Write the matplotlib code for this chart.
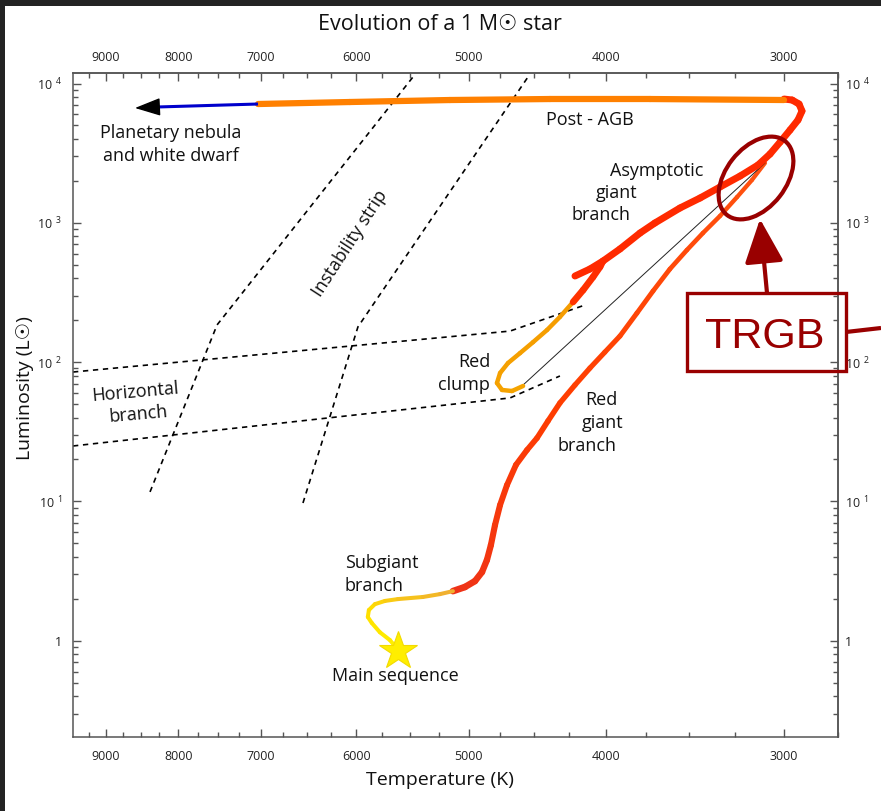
import numpy as np
import matplotlib
matplotlib.use('Agg')
import matplotlib.pyplot as plt
from matplotlib.collections import LineCollection
from matplotlib.colors import to_rgb
from matplotlib.patches import Rectangle, Ellipse
from matplotlib.ticker import FixedLocator, FixedFormatter, NullFormatter, LogLocator

plt.rcParams['font.family'] = ['Open Sans', 'DejaVu Sans']
plt.rcParams['mathtext.fontset'] = 'custom'
plt.rcParams['mathtext.rm'] = 'Open Sans'

# ---------------- data (temperature K, luminosity Lsun) ----------------
sub_T = [5635, 5680, 5773, 5849, 5887, 5877, 5820, 5726, 5607, 5385, 5238, 5129]
sub_L = [0.916, 1.01, 1.15, 1.34, 1.48, 1.66, 1.83, 1.93, 1.99, 2.06, 2.16, 2.27]

rgb_T = [5129, 5030, 4949, 4893, 4854, 4823, 4791, 4752, 4699, 4631, 4549, 4476, 4397,
         4313, 4209, 4108, 4010, 3913, 3807, 3709, 3609, 3511, 3421, 3328, 3237, 3160, 3094]
rgb_L = [2.27, 2.43, 2.68, 3.11, 3.80, 4.86, 6.77, 9.42, 13.1, 18.3, 23.4, 28.5, 37.8,
         50.9, 68.5, 90.7, 118, 154, 225, 324, 466, 638, 845, 1119, 1532, 2029, 2687]

flash_T = [3094, 4578]
flash_L = [2687, 68.5]

rc_T = [4578, 4661, 4737, 4776, 4752, 4691, 4601, 4505, 4404, 4313, 4222]
rc_L = [67.4, 62.0, 63.1, 70.8, 83.5, 98.5, 116, 139, 170, 211, 270]

up_T = [4222, 4154, 4088, 4042, 4022]
up_L = [270, 329, 408, 482, 532]

agb_T = [4209, 4108, 4022, 3913, 3788, 3698, 3551, 3437, 3328, 3221, 3129, 3069,
         3019, 2971, 2933, 2914, 2928, 2961, 3000]
agb_L = [415, 466, 532, 649, 845, 997, 1277, 1507, 1807, 2168, 2600, 3118,
         3802, 4637, 5470, 6346, 7125, 7612, 7738]

pagb_T = [3000, 3727, 4383, 5154, 6061, 7033]
pagb_L = [7612, 7738, 7738, 7612, 7365, 7125]

wd_T = [7033, 8282]
wd_L = [7125, 6782]
wd_tip_T, wd_tip_L = 8584, 6671

ms_star_T, ms_star_L = 5610, 0.84

strip1_T = [8377, 7515, 5472]
strip1_L = [11.7, 185, 11133]
strip2_T = [6539, 5982, 4542]
strip2_L = [9.74, 179, 11133]
hb_up_T = [9490, 4676, 4141]
hb_up_L = [84.9, 167, 257]
hb_lo_T = [9490, 4676, 4313]
hb_lo_L = [25.0, 55.3, 79.5]

x_major = [9000, 8000, 7000, 6000, 5000, 4000, 3000]
x_major_labels = ['9000', '8000', '7000', '6000', '5000', '4000', '3000']
x_minor = [t for t in range(2750, 9500, 250) if t % 1000 != 0]
y_major = [1, 10, 100, 1000, 10000]
y_major_labels = ['1', r'$\mathregular{10^{\;\,1}}$', r'$\mathregular{10^{\;\,2}}$',
                  r'$\mathregular{10^{\;\,3}}$', r'$\mathregular{10^{\;\,4}}$']

W, H = 881, 811
fig = plt.figure(figsize=(W / 100, H / 100), dpi=100)
fig.patch.set_facecolor('white')
ax = fig.add_axes([73 / W, 1 - 737 / H, 765 / W, 664 / H])
ax.set_xscale('log')
ax.set_yscale('log')
ax.set_xlim(9490, 2749)
ax.set_ylim(0.2036, 11897)


def set_x_ticks(a):
    a.xaxis.set_major_locator(FixedLocator(x_major))
    a.xaxis.set_major_formatter(FixedFormatter(x_major_labels))
    a.xaxis.set_minor_locator(FixedLocator(x_minor))
    a.xaxis.set_minor_formatter(NullFormatter())


def set_y_ticks(a):
    a.yaxis.set_major_locator(FixedLocator(y_major))
    a.yaxis.set_major_formatter(FixedFormatter(y_major_labels))
    a.yaxis.set_minor_locator(LogLocator(base=10, subs=np.arange(2, 10)))
    a.yaxis.set_minor_formatter(NullFormatter())


set_x_ticks(ax)
set_y_ticks(ax)
tick_style = dict(direction='in', color='#555555', width=1.0,
                  labelcolor='#222222', labelsize=9)
ax.tick_params(axis='both', which='both', top=False, right=False, **tick_style)
ax.tick_params(axis='x', which='major', length=6, pad=9)
ax.tick_params(axis='x', which='minor', length=3.5)
ax.tick_params(axis='y', which='major', length=5.5, pad=8)
ax.tick_params(axis='y', which='minor', length=3.5)
for s in ax.spines.values():
    s.set_color('#555555')
    s.set_linewidth(1.1)

axt = ax.secondary_xaxis('top')
set_x_ticks(axt)
axt.tick_params(axis='x', which='both', **tick_style)
axt.tick_params(axis='x', which='major', length=6, pad=6.5)
axt.tick_params(axis='x', which='minor', length=3.5)
axt.spines['top'].set_color('#555555')
axt.spines['top'].set_linewidth(1.1)

axr = ax.secondary_yaxis('right')
set_y_ticks(axr)
axr.tick_params(axis='y', which='both', **tick_style)
axr.tick_params(axis='y', which='major', length=5.5, pad=5)
axr.tick_params(axis='y', which='minor', length=3.5)
axr.spines['right'].set_color('#555555')
axr.spines['right'].set_linewidth(1.1)


def grad_line(T, L, stops, lw0, lw1, z):
    pts = np.column_stack([np.asarray(T, float), np.asarray(L, float)])
    segs = np.stack([pts[:-1], pts[1:]], axis=1)
    n = len(segs)
    f = np.linspace(0, 1, n)
    sp = np.linspace(0, 1, len(stops))
    rgbs = np.array([to_rgb(c) for c in stops])
    cols = np.column_stack([np.interp(f, sp, rgbs[:, k]) for k in range(3)])
    lws = lw0 + (lw1 - lw0) * f
    lc = LineCollection(segs, colors=cols, linewidths=lws, capstyle='round',
                        joinstyle='round', zorder=z)
    ax.add_collection(lc)


dash = dict(color='black', lw=1.2, ls=(0, (3.2, 2.8)), zorder=2)
ax.plot(strip1_T, strip1_L, **dash)
ax.plot(strip2_T, strip2_L, **dash)
ax.plot(hb_up_T, hb_up_L, **dash)
ax.plot(hb_lo_T, hb_lo_L, **dash)

grad_line(sub_T, sub_L, ['#FFEE00', '#FFDD00', '#F0B030'], 2.9, 2.9, 4)
grad_line(rgb_T, rgb_L, ['#EE3318', '#FF3D00', '#FF5210'], 4.8, 3.0, 3)
ax.plot(flash_T, flash_L, color='#222222', lw=0.7, zorder=4)
grad_line(rc_T, rc_L, ['#F5A400', '#F59C00'], 3.2, 3.2, 5)
grad_line(up_T, up_L, ['#FF3300', '#FF2A00'], 4.8, 4.8, 5)
grad_line(agb_T, agb_L, ['#FF2A00', '#FF2A00'], 5.0, 5.0, 5)
grad_line(pagb_T, pagb_L, ['#FF8000', '#FF8000'], 4.5, 4.5, 5)
ax.plot(wd_T, wd_L, color='#0000CC', lw=2.2, zorder=5, solid_capstyle='butt')
ax.annotate('', xy=(wd_tip_T, wd_tip_L), xytext=(wd_T[-1], wd_L[-1]),
            arrowprops=dict(arrowstyle='-|>,head_length=0.8,head_width=0.28',
                            mutation_scale=20, color='black', lw=1.0,
                            shrinkA=0, shrinkB=0), zorder=6)
ax.plot([ms_star_T], [ms_star_L], marker='*', ms=29, color='#FFEE00',
        mec='#F2DA00', mew=0.8, zorder=7, ls='none')

# ---------------- overlay in pixel units ----------------
ov = fig.add_axes([0, 0, 1, 1], zorder=5)
ov.set_xlim(0, W)
ov.set_ylim(H, 0)
ov.axis('off')
ov.patch.set_alpha(0)

ov.add_patch(Rectangle((0, 0), W, 6, color='#232323', lw=0))
ov.add_patch(Rectangle((0, 0), 5, H, color='#232323', lw=0))

fs = 13
tk = dict(fontsize=fs, color='#111111', va='center')
ov.text(171, 133, 'Planetary nebula', ha='center', **tk)
ov.text(171, 156, 'and white dwarf', ha='center', **tk)
ov.text(590, 120, 'Post - AGB', ha='center', **tk)
ov.text(657, 171, 'Asymptotic', ha='center', **tk)
ov.text(617, 193, 'giant', ha='center', **tk)
ov.text(601, 215, 'branch', ha='center', **tk)
ov.text(350, 243, 'Instability strip', ha='center', rotation=57, **tk)
ov.text(135, 392, 'Horizontal', ha='center', rotation=5, **tk)
ov.text(138, 414, 'branch', ha='center', rotation=5, **tk)
ov.text(490, 362, 'Red', ha='right', **tk)
ov.text(490, 385, 'clump', ha='right', **tk)
ov.text(601, 400, 'Red', ha='center', **tk)
ov.text(603, 423, 'giant', ha='center', **tk)
ov.text(587, 446, 'branch', ha='center', **tk)
ov.text(345, 563, 'Subgiant', ha='left', **tk)
ov.text(345, 586, 'branch', ha='left', **tk)
ov.text(395, 676, 'Main sequence', ha='center', **tk)

ov.text(440, 25, 'Evolution of a 1 M\u2609 star', ha='center', va='center',
        fontsize=15.5, color='#111111')
ov.text(440, 780, 'Temperature (K)', ha='center', va='center', fontsize=14,
        color='#111111')
ov.text(25, 388, 'Luminosity (L\u2609)', ha='center', va='center', fontsize=14,
        rotation=90, color='#111111')

# TRGB annotation
red = '#990000'
ov.add_patch(Ellipse((756, 178), width=94, height=60, angle=-52, fill=False,
                     ec=red, lw=3.0))
ov.add_patch(Rectangle((687, 293), 159, 78, fill=False, ec=red, lw=2.4))
ov.plot([846, 881], [332, 328], color=red, lw=3.0, solid_capstyle='butt')
ov.annotate('', xy=(760, 219), xytext=(767, 293),
            arrowprops=dict(arrowstyle='-|>,head_length=1.35,head_width=0.6',
                            mutation_scale=20, color=red, lw=3.0,
                            shrinkA=0, shrinkB=0))
ov.text(765, 337, 'TRGB', ha='center', va='center', fontsize=31, color=red,
        family=['Liberation Sans', 'DejaVu Sans'])

fig.savefig('out.png', dpi=100)
